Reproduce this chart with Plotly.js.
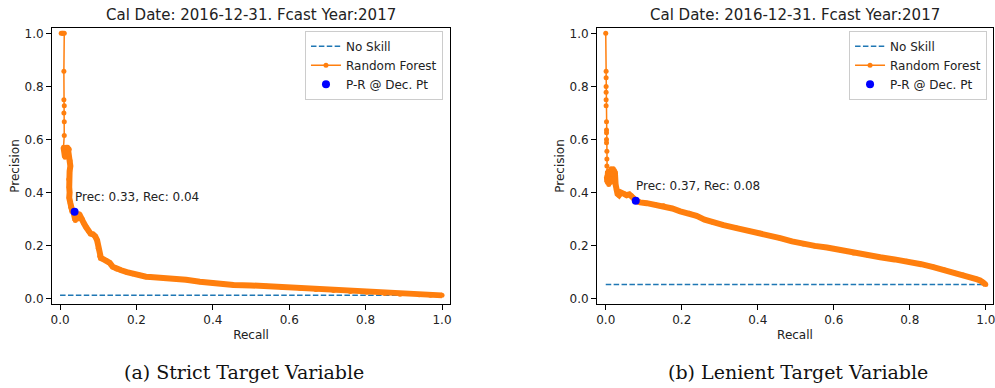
<!DOCTYPE html>
<html>
<head>
<meta charset="utf-8">
<script src="https://cdn.plot.ly/plotly-3.0.1.min.js"></script>
<style>html,body{margin:0;padding:0;background:#fff;}#chart{width:995px;height:388px;}</style>
</head>
<body>
<div id="chart"></div>
<script>
// ---- data ----
const strictNoSkillRecall = [0, 1];
const strictNoSkillPrecision = [0.0125, 0.0125];
const strictRecall = [0.003,0.006,0.008,0.011,0.010,0.010,0.011,0.010,0.011,0.011,
  0.009,0.013,0.016,0.018,0.020,0.022,0.024,0.026,0.027,0.025,0.023,0.024,0.025,0.024,0.027,0.028,0.030,0.032,0.035,0.038,
  0.040,0.042,0.046,0.050,0.055,0.058,0.062,0.068,0.075,0.080,0.086,0.092,0.097,0.100,0.104,0.107,0.112,0.122,0.130,0.138,
  0.148,0.160,0.175,0.190,0.209,0.225,0.236,0.260,0.297,0.330,0.366,0.401,0.430,0.454,0.500,0.541,0.580,0.628,0.670,0.716,
  0.760,0.803,0.850,0.890,0.940,0.970,1.000];
const strictPrecision = [1.0,1.0,1.0,1.0,0.857,0.75,0.727,0.70,0.667,0.615,
  0.571,0.533,0.571,0.55,0.571,0.545,0.563,0.52,0.50,0.48,0.45,0.42,0.40,0.38,0.36,0.345,0.335,0.33,0.328,0.31,
  0.295,0.31,0.30,0.32,0.30,0.30,0.285,0.27,0.255,0.245,0.243,0.235,0.22,0.19,0.16,0.153,0.15,0.143,0.135,0.12,
  0.112,0.107,0.10,0.094,0.088,0.083,0.082,0.080,0.076,0.071,0.064,0.059,0.054,0.052,0.050,0.047,0.043,0.039,0.035,0.031,
  0.027,0.024,0.020,0.017,0.015,0.0125,0.0125];
const strictDecision = {recall: [0.038], precision: [0.328], label: "Prec: 0.33, Rec: 0.04"};
const strictBandStart = 10;

const lenientNoSkillRecall = [0, 1];
const lenientNoSkillPrecision = [0.053, 0.053];
const lenientRecall = [0.000,0.001,0.001,0.001,0.001,0.001,0.001,0.002,0.002,0.002,0.002,0.002,0.003,0.003,0.003,
  0.003,0.004,0.006,0.008,0.010,0.012,0.014,0.016,0.018,0.020,0.022,0.024,0.026,0.028,0.031,0.035,0.040,0.048,0.055,0.062,
  0.068,0.072,0.079,0.090,0.108,0.130,0.152,0.175,0.196,0.220,0.239,0.260,0.283,0.310,0.344,0.375,0.406,0.430,0.459,0.490,
  0.520,0.550,0.582,0.620,0.652,0.690,0.722,0.760,0.792,0.830,0.862,0.890,0.915,0.940,0.959,0.975,0.985,0.993,1.000];
const lenientPrecision = [1.0,0.857,0.833,0.80,0.778,0.75,0.727,0.667,0.636,0.625,0.60,0.588,0.556,0.526,0.50,
  0.46,0.44,0.48,0.43,0.47,0.45,0.49,0.44,0.47,0.49,0.45,0.48,0.43,0.41,0.395,0.39,0.40,0.395,0.39,0.393,
  0.388,0.38,0.369,0.363,0.360,0.355,0.350,0.340,0.329,0.322,0.312,0.298,0.287,0.277,0.266,0.257,0.247,0.238,0.228,0.216,
  0.206,0.199,0.193,0.182,0.172,0.164,0.156,0.148,0.141,0.130,0.119,0.109,0.099,0.089,0.080,0.074,0.069,0.063,0.053];
const lenientDecision = {recall: [0.079], precision: [0.369], label: "Prec: 0.37, Rec: 0.08"};
const lenientBandStart = 15;

const tickVals = [0, 0.2, 0.4, 0.6, 0.8, 1.0];
const tickText = ["0.0", "0.2", "0.4", "0.6", "0.8", "1.0"];
const titleText = "Cal Date: 2016-12-31. Fcast Year:2017";
const captions = ["(a) Strict Target Variable", "(b) Lenient Target Variable"];

// ---- styling ----
const ORANGE = "#ff7f0e", BLUE = "#1f77b4", DOT = "#0000ff";
const FONT = "DejaVu Sans, sans-serif";
const SERIF = "DejaVu Serif, serif";

function panelTraces(nsR, nsP, r, p, bandStart, dec, xa, ya, leg) {
  return [
    {x: nsR, y: nsP, xaxis: xa, yaxis: ya, legend: leg, name: "No Skill", type: "scatter", mode: "lines",
     line: {color: BLUE, width: 1.5, dash: "5.5px,2.4px"}},
    {x: r.slice(bandStart), y: p.slice(bandStart), xaxis: xa, yaxis: ya, legend: leg, showlegend: false,
     type: "scatter", mode: "lines", line: {color: ORANGE, width: 6}, hoverinfo: "skip"},
    {x: r, y: p, xaxis: xa, yaxis: ya, legend: leg, name: "Random Forest", type: "scatter", mode: "lines+markers",
     line: {color: ORANGE, width: 1.5}, marker: {color: ORANGE, size: 5}},
    {x: dec.recall, y: dec.precision, xaxis: xa, yaxis: ya, legend: leg, name: "P-R @ Dec. Pt", type: "scatter",
     mode: "markers", marker: {color: DOT, size: 8}}
  ];
}

const data = [].concat(
  panelTraces(strictNoSkillRecall, strictNoSkillPrecision, strictRecall, strictPrecision, strictBandStart, strictDecision, "x", "y", "legend"),
  panelTraces(lenientNoSkillRecall, lenientNoSkillPrecision, lenientRecall, lenientPrecision, lenientBandStart, lenientDecision, "x2", "y2", "legend2")
);

function xax(domain, range, anchor) {
  return {domain: domain, range: range, anchor: anchor, showgrid: false, zeroline: false,
    showline: true, mirror: true, linecolor: "#000", linewidth: 1,
    ticks: "outside", ticklen: 5, tickcolor: "#000", tickwidth: 1, ticklabeloverflow: "allow",
    tickvals: tickVals, ticktext: tickText, tickfont: {family: FONT, size: 12, color: "#222"},
    title: {text: "Recall", font: {family: FONT, size: 12, color: "#222"}, standoff: 4}};
}
function yax(domain, range, anchor) {
  return {domain: domain, range: range, anchor: anchor, showgrid: false, zeroline: false,
    showline: true, mirror: true, linecolor: "#000", linewidth: 1,
    ticks: "outside", ticklen: 5, tickcolor: "#000", tickwidth: 1, ticklabeloverflow: "allow",
    tickvals: tickVals, ticktext: tickText, tickfont: {family: FONT, size: 12, color: "#222"},
    title: {text: "Precision", font: {family: FONT, size: 12, color: "#222"}, standoff: 2}};
}
const yDom = [0.2165, 0.9278];
function legendAt(x) {
  return {x: x, y: 0.921, xanchor: "right", yanchor: "top", xref: "paper", yref: "paper",
    bgcolor: "rgba(255,255,255,0.85)", bordercolor: "#cccccc", borderwidth: 1,
    font: {family: FONT, size: 12, color: "#222"}, tracegroupgap: 0, itemwidth: 30};
}

const layout = {
  width: 995, height: 388, margin: {l: 0, r: 0, t: 0, b: 0},
  paper_bgcolor: "#fff", plot_bgcolor: "#fff", showlegend: true,
  xaxis: xax([0.0523, 0.4523], [-0.021, 1.021], "y"),
  yaxis: yax(yDom, [-0.02, 1.02], "x"),
  xaxis2: xax([0.6, 0.998], [-0.023, 1.019], "y2"),
  yaxis2: yax(yDom, [-0.02, 1.02], "x2"),
  legend: legendAt(0.4452),
  legend2: legendAt(0.992),
  annotations: [
    {text: titleText, xref: "paper", yref: "paper", x: 0.2523, y: 1 - 15/388, xanchor: "center", yanchor: "middle",
     showarrow: false, font: {family: FONT, size: 15, color: "#222"}},
    {text: titleText, xref: "paper", yref: "paper", x: 0.799, y: 1 - 15/388, xanchor: "center", yanchor: "middle",
     showarrow: false, font: {family: FONT, size: 15, color: "#222"}},
    {text: strictDecision.label, xref: "x", yref: "y", x: strictDecision.recall[0], y: strictDecision.precision[0],
     xanchor: "left", yanchor: "bottom", yshift: 6, xshift: -2, showarrow: false, font: {family: FONT, size: 12, color: "#222"}},
    {text: lenientDecision.label, xref: "x2", yref: "y2", x: lenientDecision.recall[0], y: lenientDecision.precision[0],
     xanchor: "left", yanchor: "bottom", yshift: 6, xshift: -2, showarrow: false, font: {family: FONT, size: 12, color: "#222"}},
    {text: captions[0], xref: "paper", yref: "paper", x: 244/995, y: 1 - 372/388, xanchor: "center", yanchor: "middle",
     showarrow: false, font: {family: SERIF, size: 19, color: "#111"}},
    {text: captions[1], xref: "paper", yref: "paper", x: 798/995, y: 1 - 372/388, xanchor: "center", yanchor: "middle",
     showarrow: false, font: {family: SERIF, size: 19, color: "#111"}}
  ]
};

Plotly.newPlot("chart", data, layout, {staticPlot: true, displayModeBar: false});
</script>
</body>
</html>
